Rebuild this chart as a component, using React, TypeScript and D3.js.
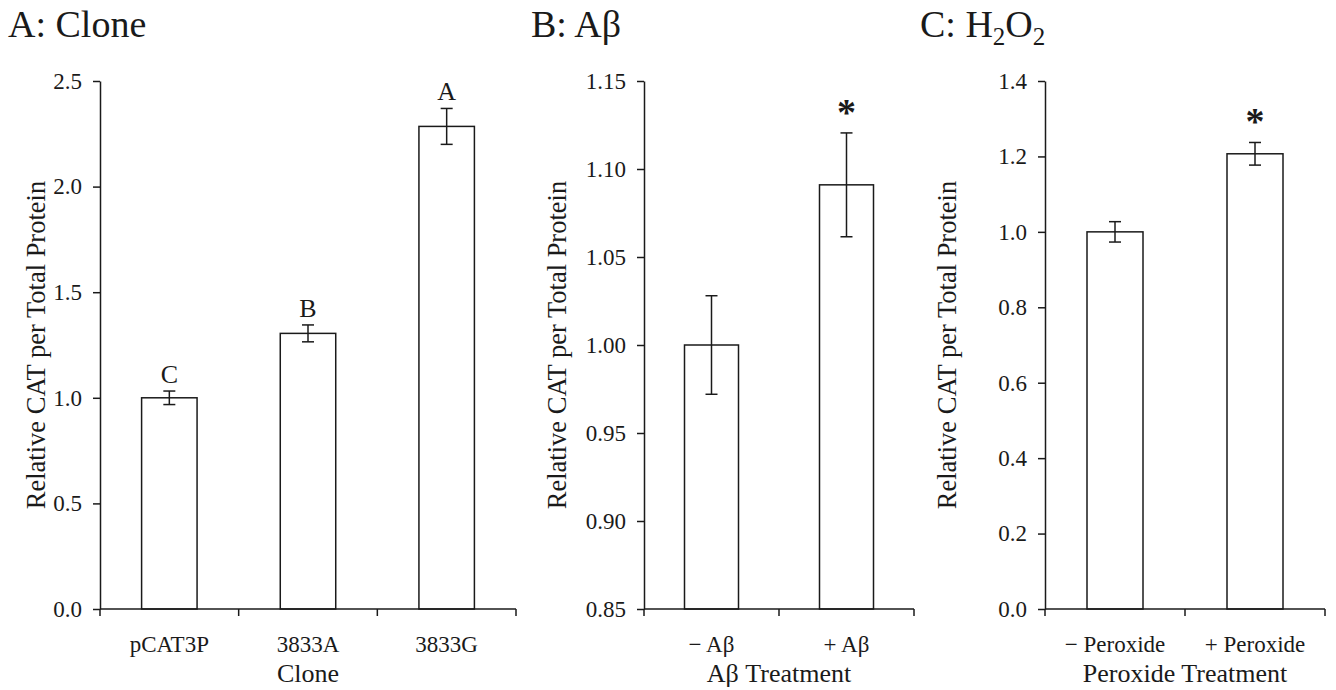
import React, { useEffect, useRef } from 'react';
import * as d3 from 'd3';

// --- data ---
const cloneCategories = ['pCAT3P', '3833A', '3833G'];
const cloneValues = [1.0, 1.305, 2.285];
const cloneErrors = [0.032, 0.04, 0.085];
const cloneLetters = ['C', 'B', 'A'];
const cloneTicks = [0, 0.5, 1.0, 1.5, 2.0, 2.5];

const abCategories = ['\u2212 A\u03b2', '+ A\u03b2'];
const abValues = [1.0, 1.091];
const abErrors = [0.028, 0.0295];
const abMarks = ['', '*'];
const abTicks = [0.85, 0.9, 0.95, 1.0, 1.05, 1.1, 1.15];

const peroxCategories = ['\u2212 Peroxide', '+ Peroxide'];
const peroxValues = [1.0, 1.207];
const peroxErrors = [0.027, 0.03];
const peroxMarks = ['', '*'];
const peroxTicks = [0, 0.2, 0.4, 0.6, 0.8, 1.0, 1.2, 1.4];

const FONT = '"Liberation Serif", "Times New Roman", serif';
const INK = '#1a1a1a';

const App = () => {
  const ref = useRef<SVGSVGElement>(null);

  useEffect(() => {
    const svg = d3.select(ref.current);
    svg.selectAll('*').remove();

    const top = 81;
    const bottom = 609;

    const panels = [
      {
        x0: 100, x1: 516, cats: cloneCategories, vals: cloneValues, errs: cloneErrors,
        marks: cloneLetters, markBold: false, ticks: cloneTicks, domain: [0, 2.5], fmt: '.1f',
        xTitle: 'Clone', yTitleX: 45
      },
      {
        x0: 644, x1: 914, cats: abCategories, vals: abValues, errs: abErrors,
        marks: abMarks, markBold: true, ticks: abTicks, domain: [0.85, 1.15], fmt: '.2f',
        xTitle: 'A\u03b2 Treatment', yTitleX: 566
      },
      {
        x0: 1045, x1: 1325, cats: peroxCategories, vals: peroxValues, errs: peroxErrors,
        marks: peroxMarks, markBold: true, ticks: peroxTicks, domain: [0, 1.4], fmt: '.1f',
        xTitle: 'Peroxide Treatment', yTitleX: 956
      }
    ];

    panels.forEach((p) => {
      const g = svg.append('g');
      const x = d3.scaleBand<string>().domain(p.cats).range([p.x0, p.x1]).paddingInner(0.6).paddingOuter(0.3);
      const y = d3.scaleLinear().domain(p.domain).range([bottom, top]);
      const step = (p.x1 - p.x0) / p.cats.length;

      // bars
      g.selectAll('rect.bar')
        .data(p.cats)
        .enter()
        .append('rect')
        .attr('x', (d) => x(d)!)
        .attr('y', (d, i) => y(p.vals[i]))
        .attr('width', x.bandwidth())
        .attr('height', (d, i) => bottom - y(p.vals[i]))
        .attr('fill', 'white')
        .attr('stroke', INK)
        .attr('stroke-width', 1.5);

      // error bars + significance marks
      p.cats.forEach((c, i) => {
        const cx = x(c)! + x.bandwidth() / 2;
        const hi = y(p.vals[i] + p.errs[i]);
        const lo = y(p.vals[i] - p.errs[i]);
        g.append('line').attr('x1', cx).attr('x2', cx).attr('y1', hi).attr('y2', lo)
          .attr('stroke', INK).attr('stroke-width', 1.5);
        [hi, lo].forEach((yy) => {
          g.append('line').attr('x1', cx - 6).attr('x2', cx + 6).attr('y1', yy).attr('y2', yy)
            .attr('stroke', INK).attr('stroke-width', 1.5);
        });
        if (p.marks[i]) {
          g.append('text')
            .attr('x', cx)
            .attr('y', hi - 8)
            .attr('text-anchor', 'middle')
            .attr('font-family', FONT)
            .attr('font-size', p.markBold ? 38 : 26)
            .attr('font-weight', p.markBold ? 'bold' : 'normal')
            .attr('fill', INK)
            .text(p.marks[i]);
        }
      });

      // y axis
      const yAxis = g.append('g')
        .attr('transform', `translate(${p.x0},0)`)
        .call(d3.axisLeft(y).tickValues(p.ticks).tickFormat(d3.format(p.fmt)).tickSize(7).tickSizeOuter(0).tickPadding(11));
      yAxis.select('.domain').attr('stroke', INK).attr('stroke-width', 1.5);
      yAxis.selectAll('.tick line').attr('stroke', INK).attr('stroke-width', 1.5);
      yAxis.selectAll('.tick text').attr('font-family', FONT).attr('font-size', 23).attr('fill', INK);

      // x axis line with boundary ticks
      g.append('line').attr('x1', p.x0).attr('x2', p.x1).attr('y1', bottom).attr('y2', bottom)
        .attr('stroke', INK).attr('stroke-width', 1.5);
      d3.range(p.cats.length + 1).forEach((k) => {
        const tx = p.x0 + k * step;
        g.append('line').attr('x1', tx).attr('x2', tx).attr('y1', bottom).attr('y2', bottom + 7)
          .attr('stroke', INK).attr('stroke-width', 1.5);
      });
      g.selectAll('text.cat')
        .data(p.cats)
        .enter()
        .append('text')
        .attr('x', (d) => x(d)! + x.bandwidth() / 2)
        .attr('y', 652)
        .attr('text-anchor', 'middle')
        .attr('font-family', FONT)
        .attr('font-size', 23)
        .attr('fill', INK)
        .text((d) => d);

      // axis titles
      g.append('text')
        .attr('x', (p.x0 + p.x1) / 2)
        .attr('y', 682)
        .attr('text-anchor', 'middle')
        .attr('font-family', FONT)
        .attr('font-size', 26)
        .attr('fill', INK)
        .text(p.xTitle);
      g.append('text')
        .attr('transform', `translate(${p.yTitleX},${(top + bottom) / 2}) rotate(-90)`)
        .attr('text-anchor', 'middle')
        .attr('font-family', FONT)
        .attr('font-size', 26.5)
        .attr('fill', INK)
        .text('Relative CAT per Total Protein');
    });

    // panel titles
    const title = (tx: number) =>
      svg.append('text').attr('x', tx).attr('y', 37).attr('font-family', FONT).attr('font-size', 38).attr('fill', INK);
    title(8).text('A: Clone');
    title(531).text('B: A\u03b2');
    const t3 = title(920);
    t3.append('tspan').text('C: H');
    t3.append('tspan').attr('font-size', 25).attr('dy', 8).text('2');
    t3.append('tspan').attr('dy', -8).text('O');
    t3.append('tspan').attr('font-size', 25).attr('dy', 8).text('2');
  }, []);

  return (
    <svg
      ref={ref}
      width={1336}
      height={690}
      style={{ position: 'absolute', left: 0, top: 0, background: 'white' }}
    ></svg>
  );
};

export default App;
